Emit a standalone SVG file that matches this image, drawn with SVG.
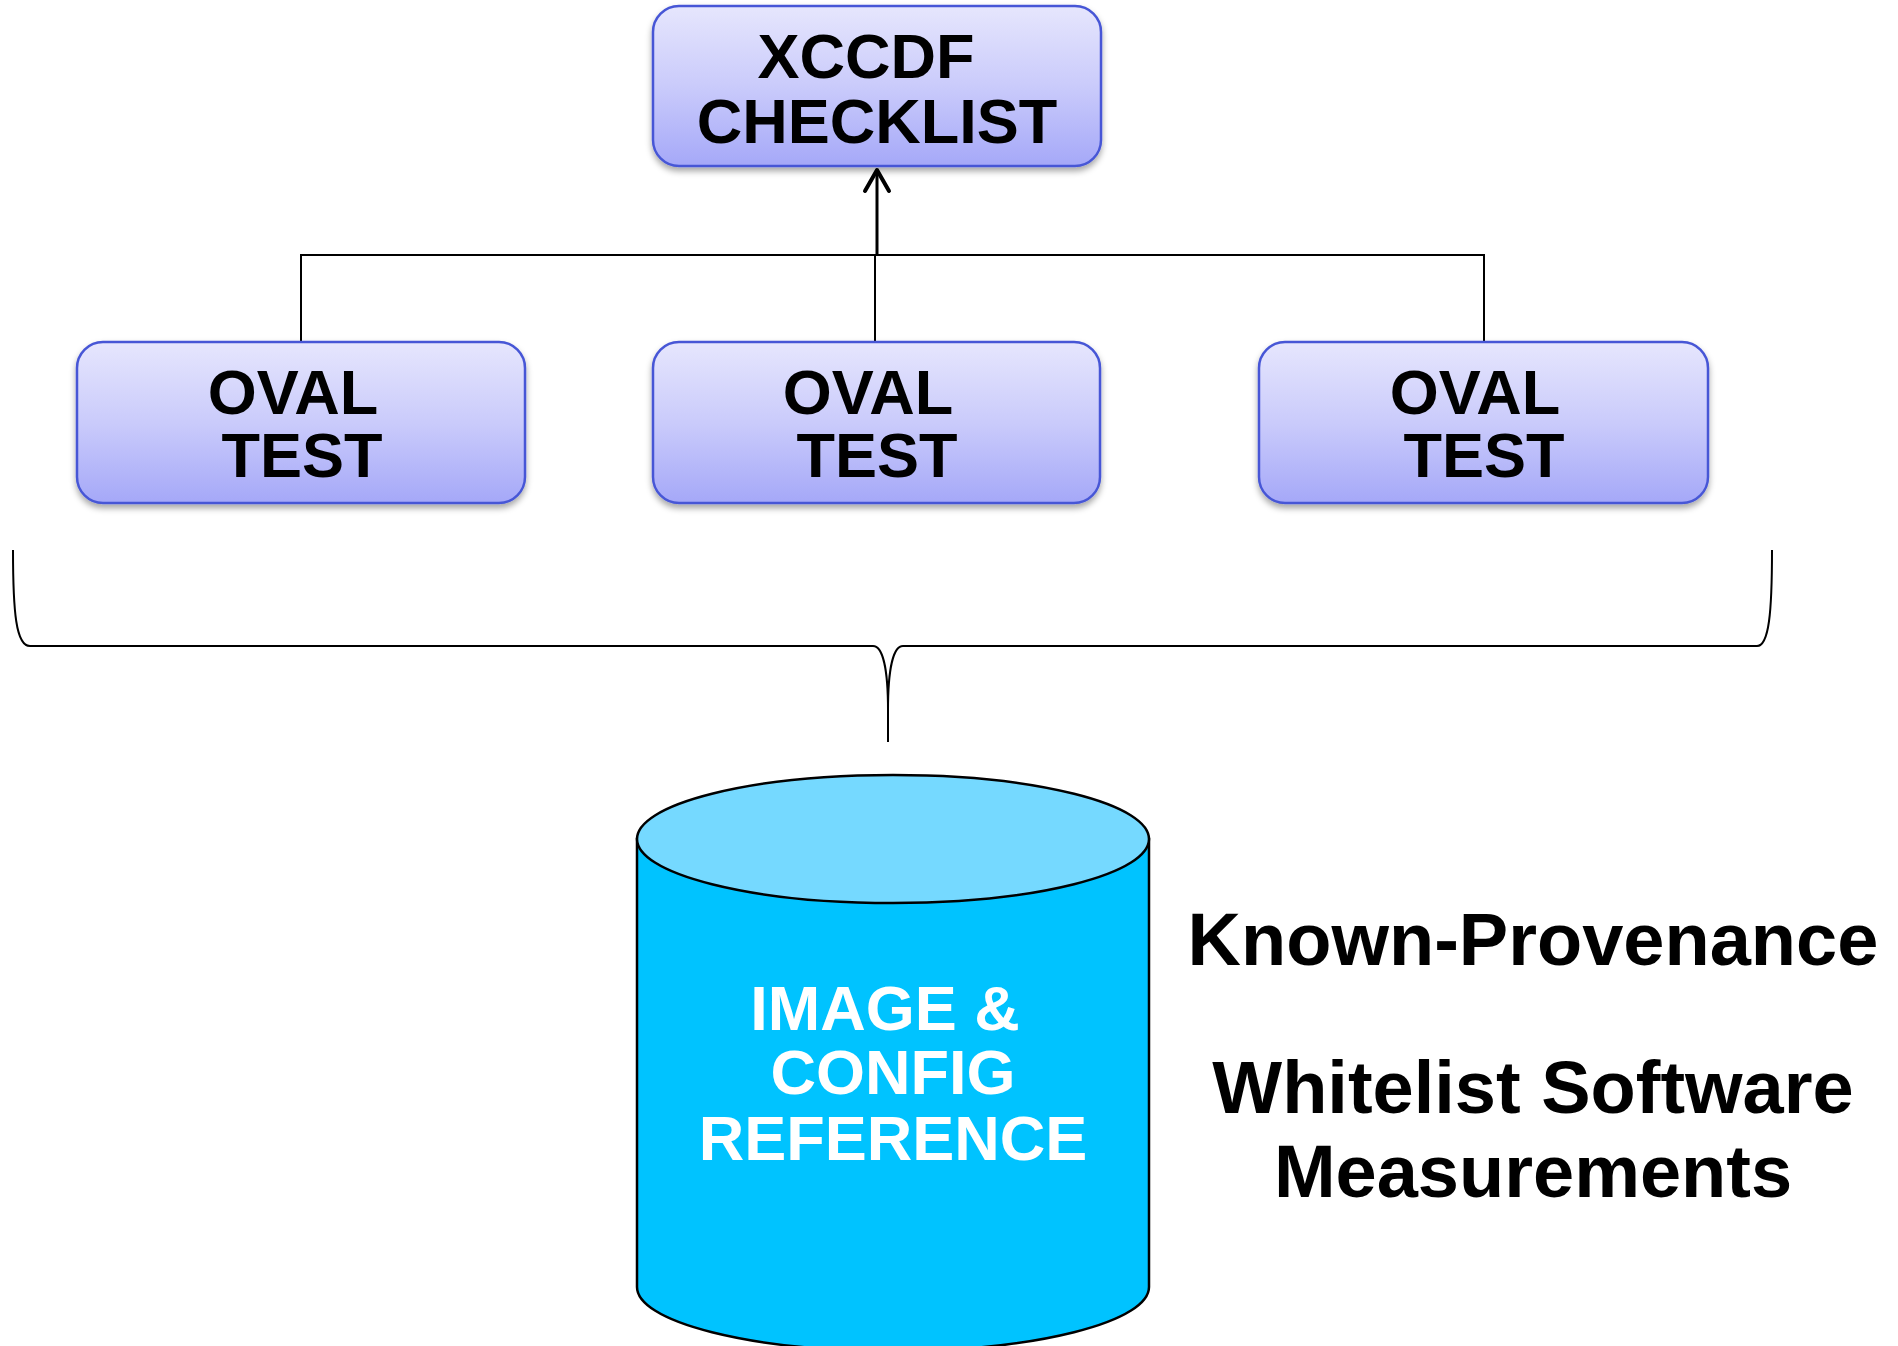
<svg xmlns="http://www.w3.org/2000/svg" width="1898" height="1346" viewBox="0 0 1898 1346">
  <style>
    .box { fill: url(#boxFill); stroke: #4757D6; stroke-width: 2.5; filter: url(#shadow); }
    .label { font-family: "Liberation Sans", Arial, sans-serif; font-weight: bold; font-size: 63px; fill: #000; text-anchor: middle; }
    .dbLabel { font-family: "Liberation Sans", Arial, sans-serif; font-weight: bold; font-size: 63px; fill: #fff; text-anchor: middle; }
    .side { font-family: "Liberation Sans", Arial, sans-serif; font-weight: bold; font-size: 74px; fill: #000; text-anchor: middle; }
    .wire { fill: none; stroke: #000; stroke-width: 2; }
  </style>
  <defs>
    <linearGradient id="boxFill" x1="0" y1="0" x2="0" y2="1">
      <stop offset="0" stop-color="#E6E6FD"/>
      <stop offset="0.5" stop-color="#CACBFB"/>
      <stop offset="1" stop-color="#A5A8F8"/>
    </linearGradient>
    <filter id="shadow" x="-10%" y="-10%" width="120%" height="130%">
      <feDropShadow dx="0" dy="4" stdDeviation="3" flood-color="#000" flood-opacity="0.35"/>
    </filter>
  </defs>

  <rect width="1898" height="1346" fill="#fff"/>

  <!-- connectors -->
  <g id="connectors">
    <path class="wire" d="M301,342 V255 H1484 V342"/>
    <path class="wire" d="M875,255 V342"/>
    <path fill="none" stroke="#000" stroke-width="3" d="M877,255 V170"/>
    <path fill="none" stroke="#000" stroke-width="4" stroke-linecap="round" stroke-linejoin="round" d="M865,191 L877,170 L889,191"/>
    <!-- brace gathering the tests onto the reference store -->
    <path class="wire" d="M13,550 C13,612 16,646 30,646 H873 C883,646 888,670 888,710 V742"/>
    <path class="wire" d="M888,710 C888,670 893,646 903,646 H1757 C1769,646 1772,612 1772,550"/>
  </g>

  <g id="xccdf-checklist">
    <rect class="box" x="653" y="6" width="448" height="160" rx="26"/>
    <text class="label" x="866" y="78">XCCDF</text>
    <text class="label" x="877" y="143">CHECKLIST</text>
  </g>

  <g id="oval-test-1">
    <rect class="box" x="77" y="342" width="448" height="161" rx="26"/>
    <text class="label" x="293" y="414">OVAL</text>
    <text class="label" x="302" y="477">TEST</text>
  </g>

  <g id="oval-test-2">
    <rect class="box" x="653" y="342" width="447" height="161" rx="26"/>
    <text class="label" x="868" y="414">OVAL</text>
    <text class="label" x="877" y="477">TEST</text>
  </g>

  <g id="oval-test-3">
    <rect class="box" x="1259" y="342" width="449" height="161" rx="26"/>
    <text class="label" x="1475" y="414">OVAL</text>
    <text class="label" x="1484" y="477">TEST</text>
  </g>

  <g id="reference-store">
    <path d="M637,839 V1287 A256,64 0 0 0 1149,1287 V839 Z" fill="#00C3FF" stroke="#000" stroke-width="2.5"/>
    <ellipse cx="893" cy="839" rx="256" ry="64" fill="#75D9FF" stroke="#000" stroke-width="2.5"/>
    <text class="dbLabel" x="885" y="1030">IMAGE &amp;</text>
    <text class="dbLabel" x="893" y="1094">CONFIG</text>
    <text class="dbLabel" x="893" y="1160">REFERENCE</text>
  </g>

  <g id="provenance-note">
    <text class="side" x="1533" y="965">Known-Provenance</text>
    <text class="side" x="1533" y="1113">Whitelist Software</text>
    <text class="side" x="1533" y="1197">Measurements</text>
  </g>
</svg>
